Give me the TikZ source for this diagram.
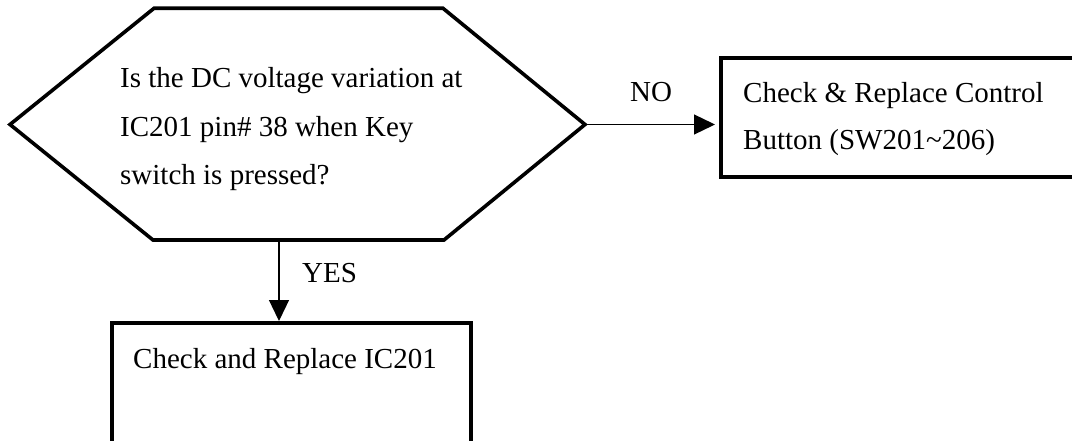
\documentclass[tikz,border=0pt]{standalone}
\usepackage{fontspec}
\setmainfont{Liberation Serif}
\usetikzlibrary{arrows.meta}
\begin{document}
\begin{tikzpicture}[x=1pt,y=-1pt,
  flowtext/.style={anchor=base west, inner sep=0pt, font=\fontsize{29}{34}\selectfont},
  flowbox/.style={draw, line width=4pt, rectangle, anchor=north west, inner sep=0pt},
  decision/.style={draw, line width=3.6pt, line join=miter},
  flowarrow/.style={line width=1.3pt, -{Triangle[length=21pt,width=20pt]}}]
\useasboundingbox (0,0) rectangle (1072,441);
\clip (0,0) rectangle (1072,441);

% decision hexagon
\coordinate (hexL)  at (10,124.5);
\coordinate (hexTL) at (154,8.3);
\coordinate (hexTR) at (443,8.3);
\coordinate (hexR)  at (585,124.5);
\coordinate (hexBR) at (444,240);
\coordinate (hexBL) at (153,240);
\coordinate (hexB)  at (279,240);
\draw[decision] (hexL) -- (hexTL) -- (hexTR) -- (hexR) -- (hexBR) -- (hexBL) -- cycle;
\node[flowtext] (q1) at (120,88)    {Is the DC voltage variation at};
\node[flowtext] (q2) at (120,136.5) {IC201 pin\# 38 when Key};
\node[flowtext] (q3) at (120,185)   {switch is pressed?};

% action boxes (open past the page edges)
\node[flowbox, minimum width=379pt, minimum height=119pt] (ctrl) at (719,56) {};
\node[flowtext] (ctrl1) at (743,103) {Check \& Replace Control};
\node[flowtext] (ctrl2) at (743,150) {Button (SW201\textasciitilde206)};

\node[flowbox, minimum width=358.5pt, minimum height=150pt] (ic) at (110,321) {};
\node[flowtext] (ic1) at (133,368) {Check and Replace IC201};

% connectors
\draw[flowarrow, shorten >=4pt] (hexR) -- (hexR -| ctrl.west);
\node[flowtext] (no) at (630,102) {NO};
\draw[flowarrow] (hexB) -- (hexB |- ic.north);
\node[flowtext] (yes) at (302,283) {YES};
\end{tikzpicture}
\end{document}
